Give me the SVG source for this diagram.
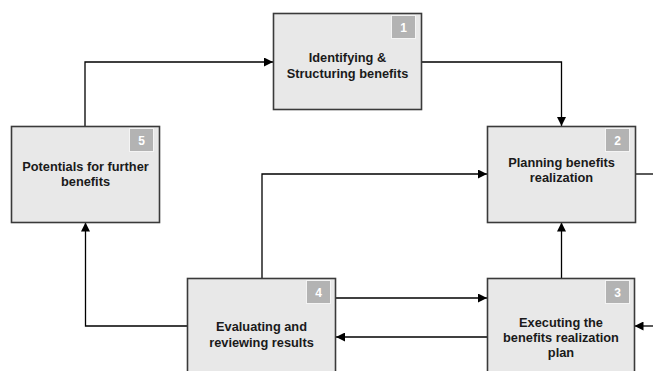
<svg xmlns="http://www.w3.org/2000/svg" width="653" height="371" viewBox="0 0 653 371">
<defs>
<marker id="ah" viewBox="0 0 10 10" refX="10" refY="5" markerWidth="9" markerHeight="9" markerUnits="userSpaceOnUse" orient="auto">
<path d="M0,0 L10,5 L0,10 z" fill="#000"/>
</marker>
<style>
.box{fill:#e8e8e8;stroke:#3a3a3a;stroke-width:1.6}
.badge{fill:#b3b3b3;stroke:#f4f4f4;stroke-width:1}
.num{font-family:"Liberation Sans",Arial,sans-serif;font-weight:bold;font-size:12px;fill:#fff;text-anchor:middle}
.lbl{font-family:"Liberation Sans",Arial,sans-serif;font-weight:bold;font-size:12.8px;fill:#1a1a1a;text-anchor:middle}
.c{fill:none;stroke:#000;stroke-width:1.3}
.a{marker-end:url(#ah)}
</style>
</defs>
<rect width="653" height="371" fill="#fff"/>
<g id="connectors">
<path class="c a" d="M85,126 V62 H273"/>
<path class="c a" d="M422,62 H561.5 V126"/>
<path class="c a" d="M262,278 V174 H487"/>
<path class="c a" d="M561.5,278 V222.5"/>
<path class="c" d="M635,174 H653"/>
<path class="c a" d="M336,298 H487"/>
<path class="c a" d="M487,337 H336"/>
<path class="c a" d="M187,326 H85.5 V222.5"/>
<path class="c a" d="M653,326 H634.5"/>
</g>
<g id="node1">
<rect class="box" x="273.5" y="13.5" width="148" height="96"/>
<rect class="badge" x="391.5" y="15.5" width="24" height="23"/>
<text class="num" x="403.5" y="31.5">1</text>
<text class="lbl" x="347.5" y="62">Identifying &amp;</text>
<text class="lbl" x="347.5" y="78">Structuring benefits</text>
</g>
<g id="node2">
<rect class="box" x="487.5" y="126.5" width="148" height="96"/>
<rect class="badge" x="605.5" y="128.5" width="24" height="23"/>
<text class="num" x="617.5" y="144.5">2</text>
<text class="lbl" x="561.5" y="167">Planning benefits</text>
<text class="lbl" x="561.5" y="182">realization</text>
</g>
<g id="node3">
<rect class="box" x="487.5" y="278.5" width="147" height="100"/>
<rect class="badge" x="605.5" y="280.5" width="24" height="23"/>
<text class="num" x="617.5" y="296.5">3</text>
<text class="lbl" x="561" y="327">Executing the</text>
<text class="lbl" x="561" y="342">benefits realization</text>
<text class="lbl" x="561" y="357">plan</text>
</g>
<g id="node4">
<rect class="box" x="187.5" y="278.5" width="148" height="100"/>
<rect class="badge" x="306.5" y="280.5" width="24" height="23"/>
<text class="num" x="318.5" y="296.5">4</text>
<text class="lbl" x="261.5" y="331">Evaluating and</text>
<text class="lbl" x="261.5" y="347">reviewing results</text>
</g>
<g id="node5">
<rect class="box" x="11.5" y="126.5" width="148" height="96"/>
<rect class="badge" x="129.5" y="128.5" width="24" height="23"/>
<text class="num" x="141.5" y="144.5">5</text>
<text class="lbl" x="85.5" y="171">Potentials for further</text>
<text class="lbl" x="85.5" y="186">benefits</text>
</g>
</svg>
